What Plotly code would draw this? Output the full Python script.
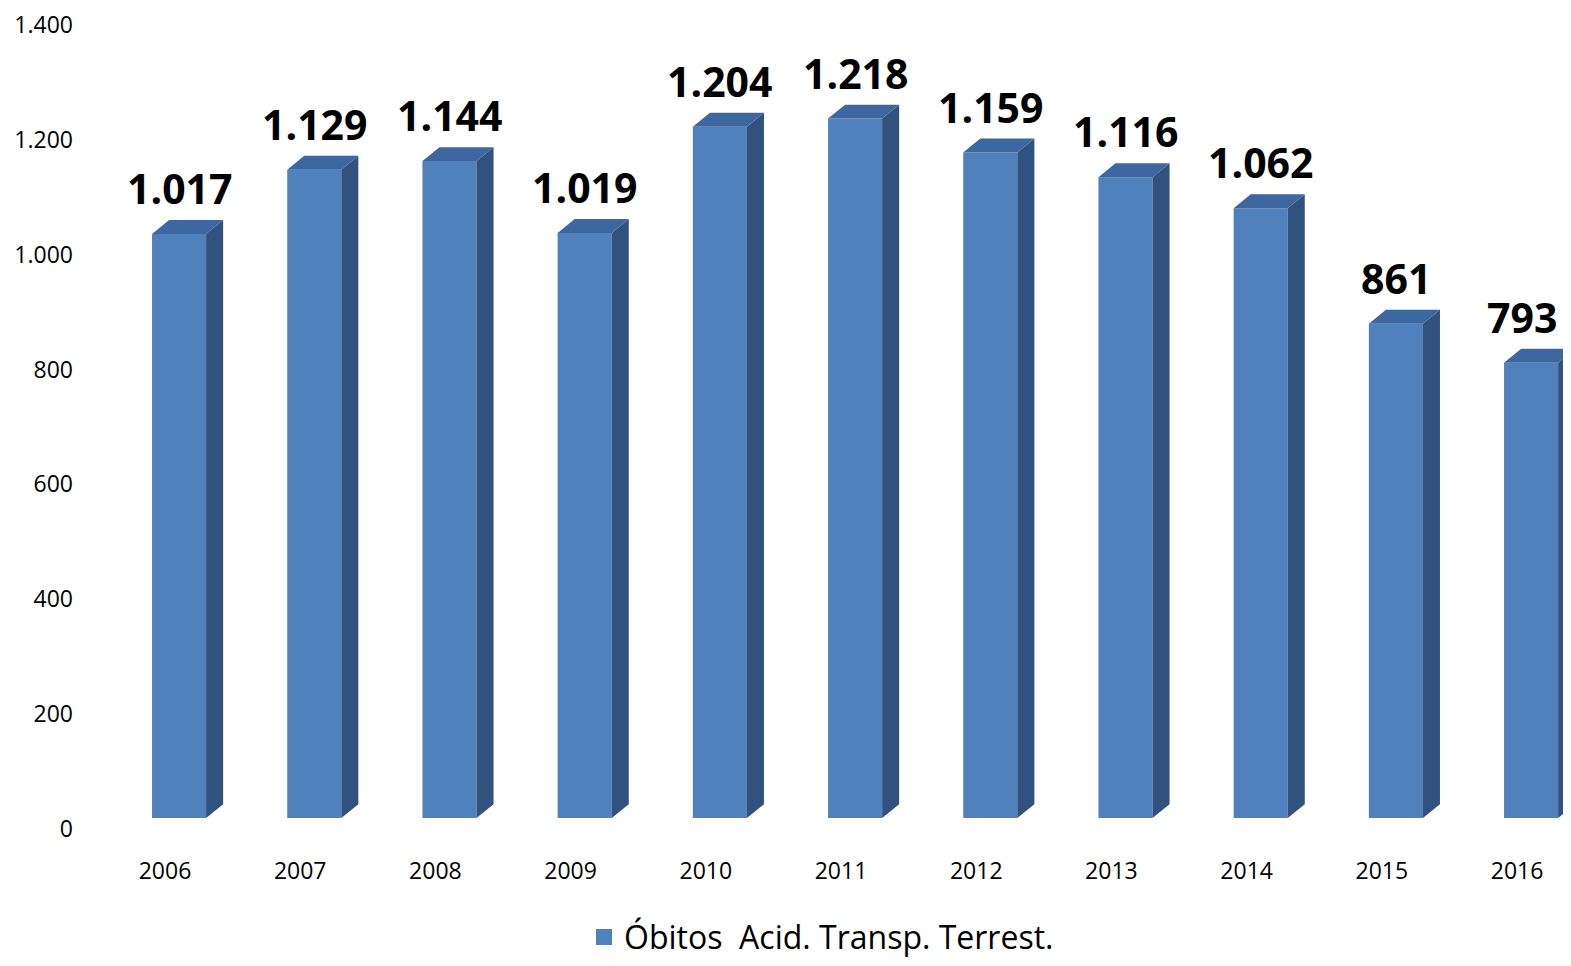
import numpy as np
import plotly.graph_objects as go

years = ["2006", "2007", "2008", "2009", "2010", "2011", "2012", "2013", "2014", "2015", "2016"]
obitos = [1017, 1129, 1144, 1019, 1204, 1218, 1159, 1116, 1062, 861, 793]
value_labels = ["1.017", "1.129", "1.144", "1.019", "1.204", "1.218", "1.159", "1.116", "1.062", "861", "793"]
series_name = "Óbitos\u00a0 Acid. Transp. Terrest."

FRONT = "#4F81BD"
TOP = "#3D67A0"
SIDE = "#31527E"

idx = np.arange(len(years), dtype=float)
base = 19.0
shift = 0.104
half_w = 0.2
dx = 0.126
dy = 24.3

xc = idx + shift
xl = xc - half_w
xr = xc + half_w
vals = np.array(obitos, dtype=float)
topv = base + vals

fig = go.Figure()

# front faces
fig.add_trace(go.Bar(
    x=xc, y=vals, base=base, width=2 * half_w,
    marker=dict(color=FRONT, line=dict(width=0)),
    showlegend=False, hoverinfo="skip",
))

# side faces
sx, sy = [], []
for a, t in zip(xr, topv):
    sx += [a, a + dx, a + dx, a, a, None]
    sy += [base, base + dy, t + dy, t, base, None]
fig.add_trace(go.Scatter(x=sx, y=sy, mode="lines", fill="toself", fillcolor=SIDE,
                         line=dict(width=0, color=SIDE), showlegend=False, hoverinfo="skip"))

# top faces
tx, ty = [], []
for a, b, t in zip(xl, xr, topv):
    tx += [a, b, b + dx, a + dx, a, None]
    ty += [t, t, t + dy, t + dy, t, None]
fig.add_trace(go.Scatter(x=tx, y=ty, mode="lines", fill="toself", fillcolor=TOP,
                         line=dict(width=0, color=TOP), showlegend=False, hoverinfo="skip"))

# legend entry
fig.add_trace(go.Scatter(x=[None], y=[None], mode="markers", name=series_name,
                         marker=dict(symbol="square", size=20, color=FRONT)))

n = len(value_labels)
for i, (x, t, lab) in enumerate(zip(xc, topv, value_labels)):
    fig.add_annotation(x=x, y=t + dy, text="<b>" + lab + "</b>", showarrow=False,
                       yanchor="bottom", yshift=2, xshift=(-9 if i == n - 1 else 0),
                       font=dict(family="Open Sans", size=41, color="#000000"))

fig.update_layout(
    separators=",.",
    plot_bgcolor="white", paper_bgcolor="white",
    margin=dict(l=72, r=0, t=8, b=129),
    font=dict(family="Open Sans", color="#000000"),
    xaxis=dict(range=[-0.6287, 10.340], tickvals=idx, ticktext=years, showgrid=False,
               zeroline=False, showline=False, ticks="", ticklabelstandoff=26,
               tickfont=dict(size=23, color="#000000")),
    yaxis=dict(range=[0, 1400], tickvals=list(range(0, 1401, 200)), tickformat=",d",
               showgrid=False, zeroline=False, showline=False, ticks="", ticklabelstandoff=6,
               ticklabeloverflow="allow",
               tickfont=dict(size=23, color="#000000")),
    legend=dict(orientation="h", x=0.5, xanchor="center", yref="container", y=0.022,
                yanchor="middle", font=dict(size=32, color="#000000")),
    showlegend=True,
)

fig.write_html("out.html")
